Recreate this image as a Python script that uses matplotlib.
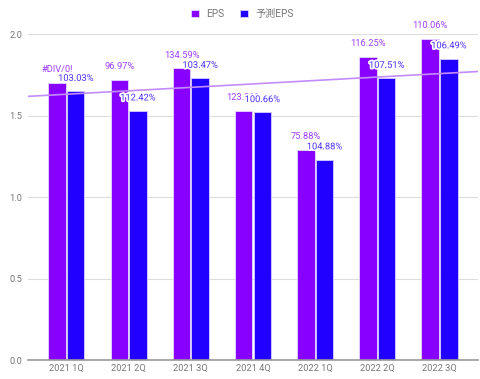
import matplotlib.pyplot as plt
import matplotlib.patheffects as pe
import numpy as np

plt.rcParams['font.family'] = ['Roboto', 'Noto Sans CJK JP', 'DejaVu Sans']

quarters = ['2021 1Q', '2021 2Q', '2021 3Q', '2021 4Q', '2022 1Q', '2022 2Q', '2022 3Q']
eps = [1.70, 1.72, 1.79, 1.53, 1.29, 1.86, 1.97]
eps_forecast = [1.65, 1.53, 1.73, 1.52, 1.23, 1.73, 1.85]
eps_labels = ['#DIV/0!', '96.97%', '134.59%', '123.31%', '75.88%', '116.25%', '110.06%']
forecast_labels = ['103.03%', '112.42%', '103.47%', '100.66%', '104.88%', '107.51%', '106.49%']

c_eps = '#8800ff'
c_fc = '#2200ff'
c_trend = '#c38cff'

fig = plt.figure(figsize=(4.8, 3.79), dpi=100)
ax = fig.add_axes([0.058, 0.05, 0.938, 0.86])

x = np.arange(len(quarters))
w = 0.28
ax.bar(x - w / 2 - 0.01, eps, w, color=c_eps, edgecolor='#e8d6ff', linewidth=0.6, zorder=2, label='EPS')
ax.bar(x + w / 2 + 0.01, eps_forecast, w, color=c_fc, edgecolor='#d6d0ff', linewidth=0.6, zorder=2, label='予測EPS')

# linear trendline of EPS
k, b = np.polyfit(x, eps, 1)
tx = np.array([-0.62, 6.62])
ax.plot(tx, k * tx + b, color=c_trend, linewidth=1.2, zorder=3)

halo = [pe.withStroke(linewidth=2.5, foreground='white')]
for i in range(len(quarters)):
    ax.annotate(eps_labels[i], (x[i] - w / 2 - 0.01, eps[i]), xytext=(0, 9.4),
                textcoords='offset points', ha='center', va='center',
                fontsize=6.7, color='#a040ff', zorder=4, annotation_clip=False)
for i in range(len(quarters)):
    ax.annotate(forecast_labels[i], (x[i] + w / 2 + 0.01, eps_forecast[i]), xytext=(0, 9.2),
                textcoords='offset points', ha='center', va='center',
                fontsize=6.7, color='#4a30ff', zorder=5, annotation_clip=False,
                path_effects=halo)

ax.set_xlim(-0.62, 6.62)
ax.set_ylim(0, 2.0)
ax.set_yticks([0, 0.5, 1.0, 1.5, 2.0])
ax.set_yticklabels(['0.0', '0.5', '1.0', '1.5', '2.0'])
ax.set_xticks(x)
ax.set_xticklabels(quarters)
ax.tick_params(axis='both', length=0, labelsize=6.7, colors='#777777')
ax.tick_params(axis='x', pad=3)
ax.tick_params(axis='y', pad=4)
ax.grid(axis='y', color='#dddddd', linewidth=0.8, zorder=0)
ax.set_axisbelow(True)
for s in ['top', 'right', 'left']:
    ax.spines[s].set_visible(False)
ax.spines['bottom'].set_color('#999999')
ax.spines['bottom'].set_linewidth(1.2)

fig.legend(loc='upper center', bbox_to_anchor=(0.505, 1.0), ncol=2, frameon=False,
           fontsize=7.3, labelcolor='#777777', handlelength=0.75, handleheight=0.75,
           handletextpad=0.7, columnspacing=1.6)

fig.savefig('out.png', dpi=100)
